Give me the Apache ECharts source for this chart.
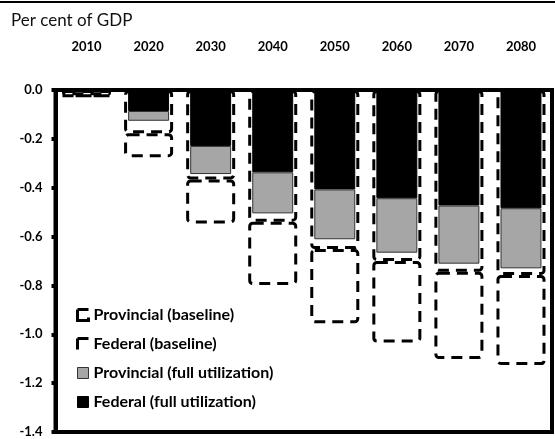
<!DOCTYPE html>
<html>
<head>
<meta charset="utf-8">
<script src="https://cdn.jsdelivr.net/npm/echarts@6/dist/echarts.min.js"></script>
<style>
  html, body { margin: 0; padding: 0; background: #fff; }
  #chart { width: 555px; height: 439px; }
</style>
</head>
<body>
<div id="chart"></div>
<script>
const years = ['2010', '2020', '2030', '2040', '2050', '2060', '2070', '2080']

// full utilization (solid bars)
const federalFull = [-0.004, -0.086, -0.229, -0.337, -0.407, -0.443, -0.473, -0.484]
const provincialFull = [-0.002, -0.04, -0.115, -0.168, -0.204, -0.223, -0.238, -0.246]

// baseline (dashed boxes)
const federalBase = [-0.022, -0.177, -0.366, -0.539, -0.651, -0.700, -0.744, -0.757]
const provincialBase = [-0.004, -0.098, -0.180, -0.259, -0.304, -0.334, -0.357, -0.369]

const yTicks = { min: -1.4, max: 0, interval: 0.2 }

const font = 'Lato'
const dash = [11, 7]

// white halo under the dashed outlines
function halo(name, data) {
  return {
    name: name,
    type: 'bar',
    xAxisIndex: 0,
    stack: 'halo',
    barWidth: '79%',
    barGap: '-100%',
    z: 2,
    silent: true,
    itemStyle: { color: 'rgba(0,0,0,0)', borderColor: '#fff', borderWidth: 8, borderRadius: 3 },
    data: data
  }
}

function dashed(name, data) {
  return {
    name: name,
    type: 'bar',
    xAxisIndex: 0,
    stack: 'base',
    barWidth: '79%',
    barGap: '-100%',
    z: 4,
    itemStyle: { color: 'rgba(0,0,0,0)', borderColor: '#000', borderWidth: 3, borderType: dash, borderRadius: 3 },
    data: data
  }
}

function solid(name, data, color, border) {
  return {
    name: name,
    type: 'bar',
    xAxisIndex: 1,
    stack: 'full',
    barWidth: '66%',
    z: 3,
    itemStyle: { color: color, borderColor: border, borderWidth: 1 },
    data: data
  }
}

const option = {
  backgroundColor: '#fff',
  animation: false,
  textStyle: { fontFamily: font },
  title: {
    text: 'Per cent of GDP',
    left: 6,
    top: 7,
    textStyle: { fontFamily: font, fontSize: 17, fontWeight: 'normal', color: '#111' }
  },
  graphic: [
    {
      type: 'line',
      shape: { x1: 0, y1: 2, x2: 555, y2: 2 },
      style: { stroke: '#000', lineWidth: 2 }
    }
  ],
  legend: {
    orient: 'vertical',
    left: 71,
    top: 302,
    icon: 'rect',
    itemWidth: 11,
    itemHeight: 11,
    itemGap: 13,
    textStyle: { fontFamily: font, fontSize: 16, fontWeight: 'bold', color: '#000' },
    data: [
      { name: 'Provincial (baseline)', itemStyle: { color: 'rgba(0,0,0,0)', borderColor: '#000', borderWidth: 3, borderType: [11, 8, 25, 0] } },
      { name: 'Federal (baseline)', itemStyle: { color: 'rgba(0,0,0,0)', borderColor: '#000', borderWidth: 3, borderType: [11, 22, 11, 0] } },
      { name: 'Provincial (full utilization)', itemStyle: { color: '#a6a6a6', borderColor: '#333', borderWidth: 1 } },
      { name: 'Federal (full utilization)', itemStyle: { color: '#000', borderColor: '#000', borderWidth: 1 } }
    ]
  },
  grid: {
    left: 55.5,
    right: 3,
    top: 90,
    bottom: 7,
    show: true,
    z: 10,
    borderColor: '#000',
    borderWidth: 4
  },
  xAxis: [
    {
      type: 'category',
      position: 'top',
      data: years,
      z: 10,
      axisLine: { show: true, lineStyle: { color: '#000', width: 4 } },
      axisTick: { show: false },
      axisLabel: { margin: 37, fontFamily: font, fontSize: 13, fontWeight: 'bold', color: '#000' }
    },
    {
      type: 'category',
      position: 'top',
      data: years,
      show: false
    }
  ],
  yAxis: {
    type: 'value',
    min: yTicks.min,
    max: yTicks.max,
    interval: yTicks.interval,
    z: 10,
    axisLine: { show: true, lineStyle: { color: '#000', width: 4 } },
    axisTick: { show: true, length: 4, lineStyle: { color: '#000', width: 4 } },
    splitLine: { show: false },
    axisLabel: {
      margin: 13,
      fontFamily: font,
      fontSize: 13,
      fontWeight: 'bold',
      color: '#000',
      formatter: v => v.toFixed(1)
    }
  },
  series: [
    solid('Federal (full utilization)', federalFull, '#000', '#000'),
    solid('Provincial (full utilization)', provincialFull, '#a6a6a6', '#333'),
    halo('halo-f', federalBase),
    halo('halo-p', provincialBase),
    dashed('Federal (baseline)', federalBase),
    dashed('Provincial (baseline)', provincialBase)
  ]
}

const chart = echarts.init(document.getElementById('chart'))
chart.setOption(option)
</script>
</body>
</html>
